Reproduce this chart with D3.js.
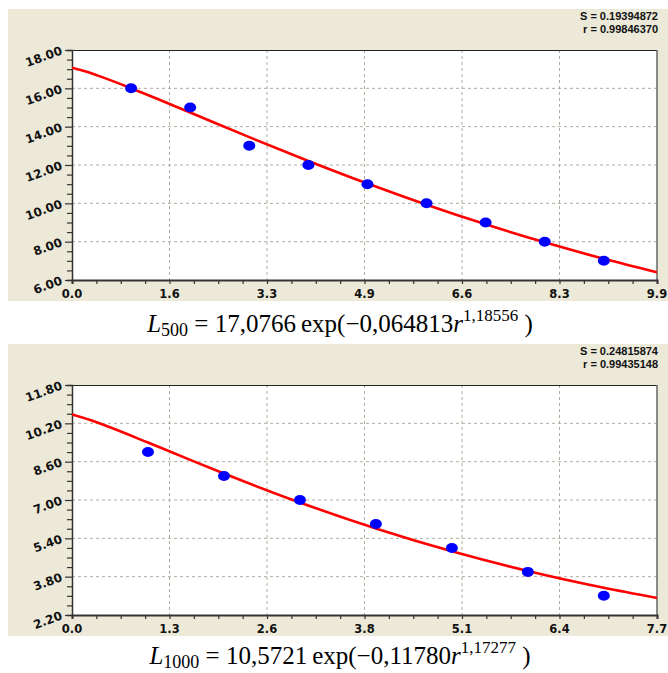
<!DOCTYPE html>
<html><head><meta charset="utf-8">
<script src="https://cdn.jsdelivr.net/npm/d3@7/dist/d3.min.js"></script>
<style>body{margin:0;background:#fff}svg{display:block}</style>
</head><body>
<svg id="chart" width="668" height="673"></svg>
<script>
// ---- Panel 1 data ----
const xTickLabels1 = ["0.0","1.6","3.3","4.9","6.6","8.3","9.9"];
const yTickLabels1 = ["6.00","8.00","10.00","12.00","14.00","16.00","18.00"];
const xDomain1 = [0, 9.9];
const yDomain1 = [6, 18];
const pointsR1 = [1, 2, 3, 4, 5, 6, 7, 8, 9];
const pointsL1 = [16, 15, 13, 12, 11, 10, 9, 8, 7];
const curveR1 = [0, 0.25, 0.5, 1, 1.5, 2, 3, 4, 5, 6, 7, 8, 9, 9.9];
const curveL1 = [17.077, 16.864, 16.597, 16.005, 15.377, 14.736, 13.454, 12.212, 11.032, 9.929, 8.906, 7.965, 7.105, 6.397];
const stats1 = ["S = 0.19394872", "r = 0.99846370"];

// ---- Panel 2 data ----
const xTickLabels2 = ["0.0","1.3","2.6","3.8","5.1","6.4","7.7"];
const yTickLabels2 = ["2.20","3.80","5.40","7.00","8.60","10.20","11.80"];
const xDomain2 = [0, 7.7];
const yDomain2 = [2.2, 11.8];
const pointsR2 = [1, 2, 3, 4, 5, 6, 7];
const pointsL2 = [9.0, 8.0, 7.0, 6.0, 5.0, 4.0, 3.0];
const curveR2 = [0, 0.25, 0.5, 1, 1.5, 2, 3, 4, 5, 6, 7, 7.7];
const curveL2 = [10.572, 10.330, 10.034, 9.397, 8.747, 8.106, 6.896, 5.810, 4.857, 4.035, 3.334, 2.908];
const stats2 = ["S = 0.24815874", "r = 0.99435148"];

const svg = d3.select("#chart");
const BEIGE = "#ECE9D8";

function drawPanel(top, fy, cfg) {
  const g = svg.append("g");
  const left = 72, right = 657;
  const pTop = top + 41, pBot = top + 271;
  g.append("rect").attr("x", 8).attr("y", top).attr("width", 660).attr("height", 292).attr("fill", BEIGE);
  g.append("rect").attr("x", left).attr("y", pTop).attr("width", right - left).attr("height", pBot - pTop).attr("fill", "#fff");

  const x = d3.scaleLinear().domain(cfg.xDomain).range([left, right]);
  const y = d3.scaleLinear().domain(cfg.yDomain).range([pBot, pTop]);
  const nMaj = cfg.xLabels.length - 1;
  const xStep = (cfg.xDomain[1] - cfg.xDomain[0]) / nMaj;
  const yStep = (cfg.yDomain[1] - cfg.yDomain[0]) / nMaj;
  const xMaj = d3.range(nMaj + 1).map(i => cfg.xDomain[0] + i * xStep);
  const yMaj = d3.range(nMaj + 1).map(i => cfg.yDomain[0] + i * yStep);
  const xMin = d3.range(nMaj * 4 + 1).map(i => cfg.xDomain[0] + i * xStep / 4);
  const yMin = d3.range(nMaj * 4 + 1).map(i => cfg.yDomain[0] + i * yStep / 4);

  // grid
  const grid = g.append("g").attr("stroke", "#b0aca0").attr("stroke-width", 1).attr("stroke-dasharray", "3,3");
  xMaj.slice(1, -1).forEach(v => grid.append("line").attr("x1", x(v)).attr("x2", x(v)).attr("y1", pTop).attr("y2", pBot));
  yMaj.slice(1, -1).forEach(v => grid.append("line").attr("x1", left).attr("x2", right).attr("y1", y(v)).attr("y2", y(v)));

  // borders
  g.append("line").attr("x1", left).attr("x2", right).attr("y1", pTop + 0.5).attr("y2", pTop + 0.5).attr("stroke", "#222").attr("stroke-width", 1.2);
  g.append("line").attr("x1", right).attr("x2", right).attr("y1", pTop).attr("y2", pBot).attr("stroke", "#666").attr("stroke-width", 1.5);

  // axes
  const xAxis = d3.axisBottom(x).tickValues(xMin).tickSize(4).tickFormat("");
  const ax = g.append("g").attr("transform", `translate(0,${pBot})`).call(xAxis);
  ax.select(".domain").attr("stroke", "#333").attr("stroke-width", 2);
  ax.selectAll(".tick line").attr("stroke", "#333").attr("stroke-width", 1.2);
  const yAxis = d3.axisLeft(y).tickValues(yMin).tickSize(5).tickFormat("");
  const ay = g.append("g").attr("transform", `translate(${left},0)`).call(yAxis);
  ay.select(".domain").attr("stroke", "#333").attr("stroke-width", 1.5);
  ay.selectAll(".tick line").attr("stroke", "#333").attr("stroke-width", 1.2);
  ay.selectAll(".tick").filter((d, i) => i % 4 === 0).select("line").attr("x2", -7);

  // labels
  g.selectAll(".xl").data(xMaj).enter().append("text")
    .attr("x", d => x(d)).attr("y", pBot + 18)
    .attr("text-anchor", "middle").attr("font-family", "DejaVu Sans, Verdana, sans-serif")
    .attr("font-weight", "bold").attr("font-size", 11.5).attr("fill", "#111")
    .text((d, i) => cfg.xLabels[i]);
  g.selectAll(".yl").data(yMaj).enter().append("text")
    .attr("transform", d => `translate(63,${y(d) + 4}) rotate(-20)`)
    .attr("text-anchor", "end").attr("font-family", "DejaVu Sans, Verdana, sans-serif")
    .attr("font-weight", "bold").attr("font-size", 12).attr("fill", "#111")
    .text((d, i) => cfg.yLabels[i]);

  // stats
  cfg.stats.forEach((s, i) => {
    g.append("text").attr("x", 658).attr("y", top + 11 + i * 13)
      .attr("text-anchor", "end").attr("font-family", "Liberation Sans, Arial, sans-serif")
      .attr("font-weight", "bold").attr("font-size", 11).attr("fill", "#111").text(s);
  });

  // curve
  const line = d3.line().x((d, i) => x(cfg.curveR[i])).y(d => y(d)).curve(d3.curveMonotoneX);
  const clip = "clip" + top;
  svg.append("clipPath").attr("id", clip).append("rect").attr("x", left).attr("y", pTop).attr("width", right - left).attr("height", pBot - pTop);
  g.append("path").datum(cfg.curveL).attr("d", line).attr("fill", "none")
    .attr("stroke", "#ff0000").attr("stroke-width", 2.6).attr("clip-path", `url(#${clip})`);

  // points
  g.selectAll(".pt").data(cfg.pointsL).enter().append("ellipse")
    .attr("cx", (d, i) => x(cfg.pointsR[i])).attr("cy", d => y(d))
    .attr("rx", 6).attr("ry", 5).attr("fill", "#0000ff");

  // formula
  const f = svg.append("text").attr("x", 340).attr("y", fy)
    .attr("text-anchor", "middle").attr("font-family", "Liberation Serif, Times New Roman, serif")
    .attr("font-size", 25).attr("fill", "#000");
  f.append("tspan").attr("font-style", "italic").text("L");
  f.append("tspan").attr("dy", 4).attr("font-size", 18).text(cfg.fSub);
  f.append("tspan").attr("dy", -4).text(" = " + cfg.fCoef + "\u2009exp(\u2212" + cfg.fRate);
  f.append("tspan").attr("font-style", "italic").text("r");
  f.append("tspan").attr("dy", -11).attr("font-size", 17).text(cfg.fExp);
  f.append("tspan").attr("dy", 11).text(" )");
}

drawPanel(9, 332, {
  xDomain: xDomain1, yDomain: yDomain1, xLabels: xTickLabels1, yLabels: yTickLabels1,
  pointsR: pointsR1, pointsL: pointsL1, curveR: curveR1, curveL: curveL1, stats: stats1,
  fSub: "500", fCoef: "17,0766", fRate: "0,064813", fExp: "1,18556"
});
drawPanel(344, 664, {
  xDomain: xDomain2, yDomain: yDomain2, xLabels: xTickLabels2, yLabels: yTickLabels2,
  pointsR: pointsR2, pointsL: pointsL2, curveR: curveR2, curveL: curveL2, stats: stats2,
  fSub: "1000", fCoef: "10,5721", fRate: "0,11780", fExp: "1,17277"
});
</script>
</body></html>
